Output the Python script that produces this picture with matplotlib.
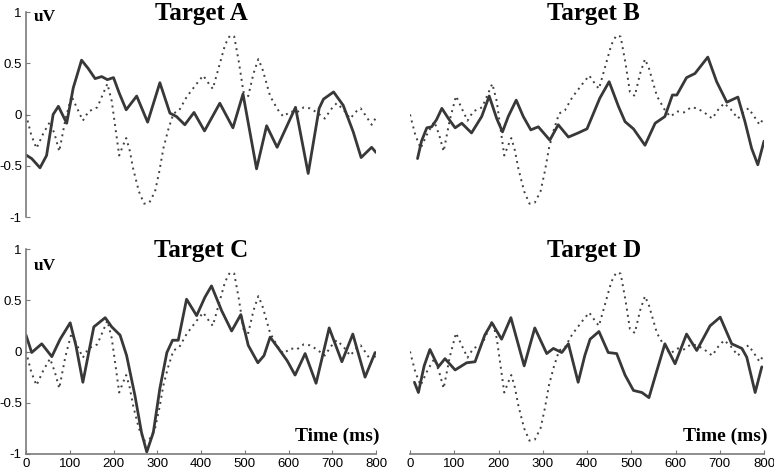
import matplotlib
matplotlib.use('Agg')
import matplotlib.pyplot as plt

# non-target average (dotted), same in every panel
nontarget_t = [0, 12, 24, 40, 55, 66, 76, 90, 104, 118, 130, 143, 163, 178, 186, 196, 205, 213, 222, 229,
               237, 245, 258, 270, 282, 295, 305, 314, 325, 337, 350, 367, 390, 405, 418, 427, 440, 455,
               466, 476, 487, 497, 508, 520, 531, 540, 558, 575, 588, 605, 619, 635, 649, 665, 683, 697,
               710, 725, 741, 755, 765, 778, 790, 800]
nontarget_v = [0.0, -0.2, -0.33, -0.18, -0.07, -0.2, -0.36, -0.05, 0.18, 0.05, -0.06, 0.03, 0.07, 0.22, 0.3,
               0.13, -0.15, -0.4, -0.3, -0.23, -0.35, -0.53, -0.75, -0.87, -0.86, -0.75, -0.55, -0.33,
               -0.15, 0.01, 0.04, 0.17, 0.3, 0.38, 0.3, 0.25, 0.45, 0.68, 0.77, 0.76, 0.5, 0.22, 0.18, 0.4,
               0.54, 0.45, 0.18, 0.05, -0.02, 0.03, 0.02, 0.07, 0.06, 0.02, -0.04, 0.05, 0.11, 0.05, -0.04,
               0.03, 0.06, -0.02, -0.1, -0.03]

# target averages (solid)
a_t = [0, 13, 32, 47, 62, 74, 93, 108, 127, 142, 158, 173, 186, 200, 213, 229, 253, 278, 306, 329, 344,
       363, 384, 408, 443, 473, 496, 527, 550, 574, 616, 645, 670, 680, 703, 725, 748, 766, 790, 800]
a_v = [-0.395, -0.43, -0.52, -0.40, 0.0, 0.08, -0.085, 0.26, 0.53, 0.45, 0.35, 0.37, 0.34, 0.36, 0.21,
       0.046, 0.18, -0.075, 0.31, 0.013, -0.02, -0.10, 0.02, -0.16, 0.11, -0.13, 0.2, -0.53, -0.11, -0.32,
       0.07, -0.575, 0.06, 0.15, 0.22, 0.09, -0.17, -0.42, -0.32, -0.37]

b_t = [17, 26, 38, 49, 60, 72, 87, 102, 117, 139, 162, 179, 196, 209, 222, 240, 256, 273, 290, 316, 335,
       358, 380, 400, 429, 450, 471, 486, 505, 531, 554, 576, 593, 603, 625, 644, 673, 693, 716, 741,
       757, 772, 786, 800]
b_v = [-0.43, -0.26, -0.13, -0.12, -0.05, 0.06, -0.04, -0.13, -0.085, -0.18, -0.02, 0.18, -0.04, -0.17,
       -0.02, 0.14, -0.02, -0.15, -0.12, -0.25, -0.1, -0.22, -0.18, -0.14, 0.16, 0.32, 0.08, -0.07, -0.14,
       -0.3, -0.085, -0.02, 0.19, 0.19, 0.36, 0.4, 0.56, 0.32, 0.12, 0.17, -0.07, -0.33, -0.49, -0.26]

c_t = [0, 13, 36, 59, 78, 101, 114, 130, 142, 155, 181, 196, 215, 230, 249, 264, 276, 291, 306, 322, 335,
       348, 367, 390, 409, 424, 447, 470, 491, 508, 530, 544, 558, 577, 597, 615, 638, 663, 693, 722,
       747, 775, 798]
c_v = [0.16, -0.01, 0.075, -0.05, 0.12, 0.28, 0.06, -0.3, -0.04, 0.24, 0.33, 0.24, 0.16, -0.04, -0.43,
       -0.79, -0.98, -0.79, -0.36, -0.01, 0.11, 0.11, 0.51, 0.35, 0.53, 0.64, 0.4, 0.2, 0.36, 0.06, -0.11,
       -0.04, 0.14, 0.03, -0.09, -0.23, -0.02, -0.31, 0.23, -0.1, 0.17, -0.25, -0.01]

d_t = [10, 19, 32, 45, 64, 79, 102, 128, 147, 169, 185, 207, 228, 258, 282, 309, 324, 343, 358, 380, 395,
       407, 427, 448, 467, 486, 505, 524, 540, 557, 576, 599, 625, 648, 678, 701, 727, 750, 761, 780, 795]
d_v = [-0.3, -0.4, -0.14, 0.02, -0.15, -0.07, -0.18, -0.11, -0.1, 0.16, 0.28, 0.12, 0.33, -0.14, 0.23,
       -0.02, 0.03, -0.01, 0.075, -0.3, -0.04, 0.12, 0.195, -0.01, -0.02, -0.23, -0.38, -0.4, -0.45, -0.2,
       0.075, -0.12, 0.17, 0.01, 0.25, 0.335, 0.075, 0.03, -0.055, -0.4, -0.15]

titles = ['Target A', 'Target B', 'Target C', 'Target D']
x_ticks = [0, 100, 200, 300, 400, 500, 600, 700, 800]
y_ticks = [-1, -0.5, 0, 0.5, 1]
y_tick_labels = ['-1', '-0.5', '0', '0.5', '1']

W, H = 774, 474
fig = plt.figure(figsize=(W / 100, H / 100), dpi=100)

# axes rectangles in pixels: (x of t=0, x of t=800, y of v=1, y of v=-1)
boxes = [(26, 376, 12, 217), (410, 764, 12, 217), (26, 376, 249, 454), (410, 764, 249, 454)]
series = [(a_t, a_v), (b_t, b_v), (c_t, c_v), (d_t, d_v)]
show_y = [True, False, True, False]
show_x = [False, False, True, True]
uv_pos = [0.91, None, 0.80, None]

serif = ['Liberation Serif', 'DejaVu Serif']
sans = ['Liberation Sans', 'DejaVu Sans']
spine_col = '#7a7a7a'
line_col = '#383838'

for i in range(4):
    x0, x1, y0, y1 = boxes[i]
    ax = fig.add_axes([x0 / W, 1 - y1 / H, (x1 - x0) / W, (y1 - y0) / H])
    ax.set_xlim(0, 800)
    ax.set_ylim(-1, 1)
    ax.patch.set_alpha(0)

    ax.plot(nontarget_t, nontarget_v, linestyle=(0, (1, 2.2)), color='#404040', linewidth=1.4)
    ax.plot(series[i][0], series[i][1], color=line_col, linewidth=2.0,
            solid_joinstyle='round', solid_capstyle='round')

    for s in ['top', 'right']:
        ax.spines[s].set_visible(False)
    ax.spines['left'].set_visible(show_y[i])
    ax.spines['bottom'].set_visible(show_x[i])
    ax.spines['left'].set_color(spine_col)
    ax.spines['bottom'].set_color(spine_col)
    ax.spines['left'].set_linewidth(1.2)
    ax.spines['bottom'].set_linewidth(1.2)

    if show_y[i]:
        ax.set_yticks(y_ticks)
        ax.set_yticklabels(y_tick_labels, family=sans, fontsize=9.5)
        ax.tick_params(axis='y', direction='in', length=3, color=spine_col, pad=3)
    else:
        ax.set_yticks([])
    if show_x[i]:
        ax.set_xticks(x_ticks)
        ax.set_xticklabels([str(v) for v in x_ticks], family=sans, fontsize=9.5)
        ax.tick_params(axis='x', direction='in', length=3, color=spine_col, pad=3)
        ax.text(808, -0.87, 'Time (ms)', family=serif, fontweight='bold', fontsize=14,
                ha='right', va='baseline', clip_on=False)
    else:
        ax.set_xticks([])

    cx = 400 if i % 2 == 0 else 415
    ax.text(cx, 0.925, titles[i], family=serif, fontweight='bold', fontsize=18,
            ha='center', va='baseline', clip_on=False)
    if uv_pos[i] is not None:
        ax.text(18, uv_pos[i], 'uV', family=serif, fontweight='bold', fontsize=12.5,
                ha='left', va='baseline', clip_on=False)

fig.savefig('out.png', dpi=100)
